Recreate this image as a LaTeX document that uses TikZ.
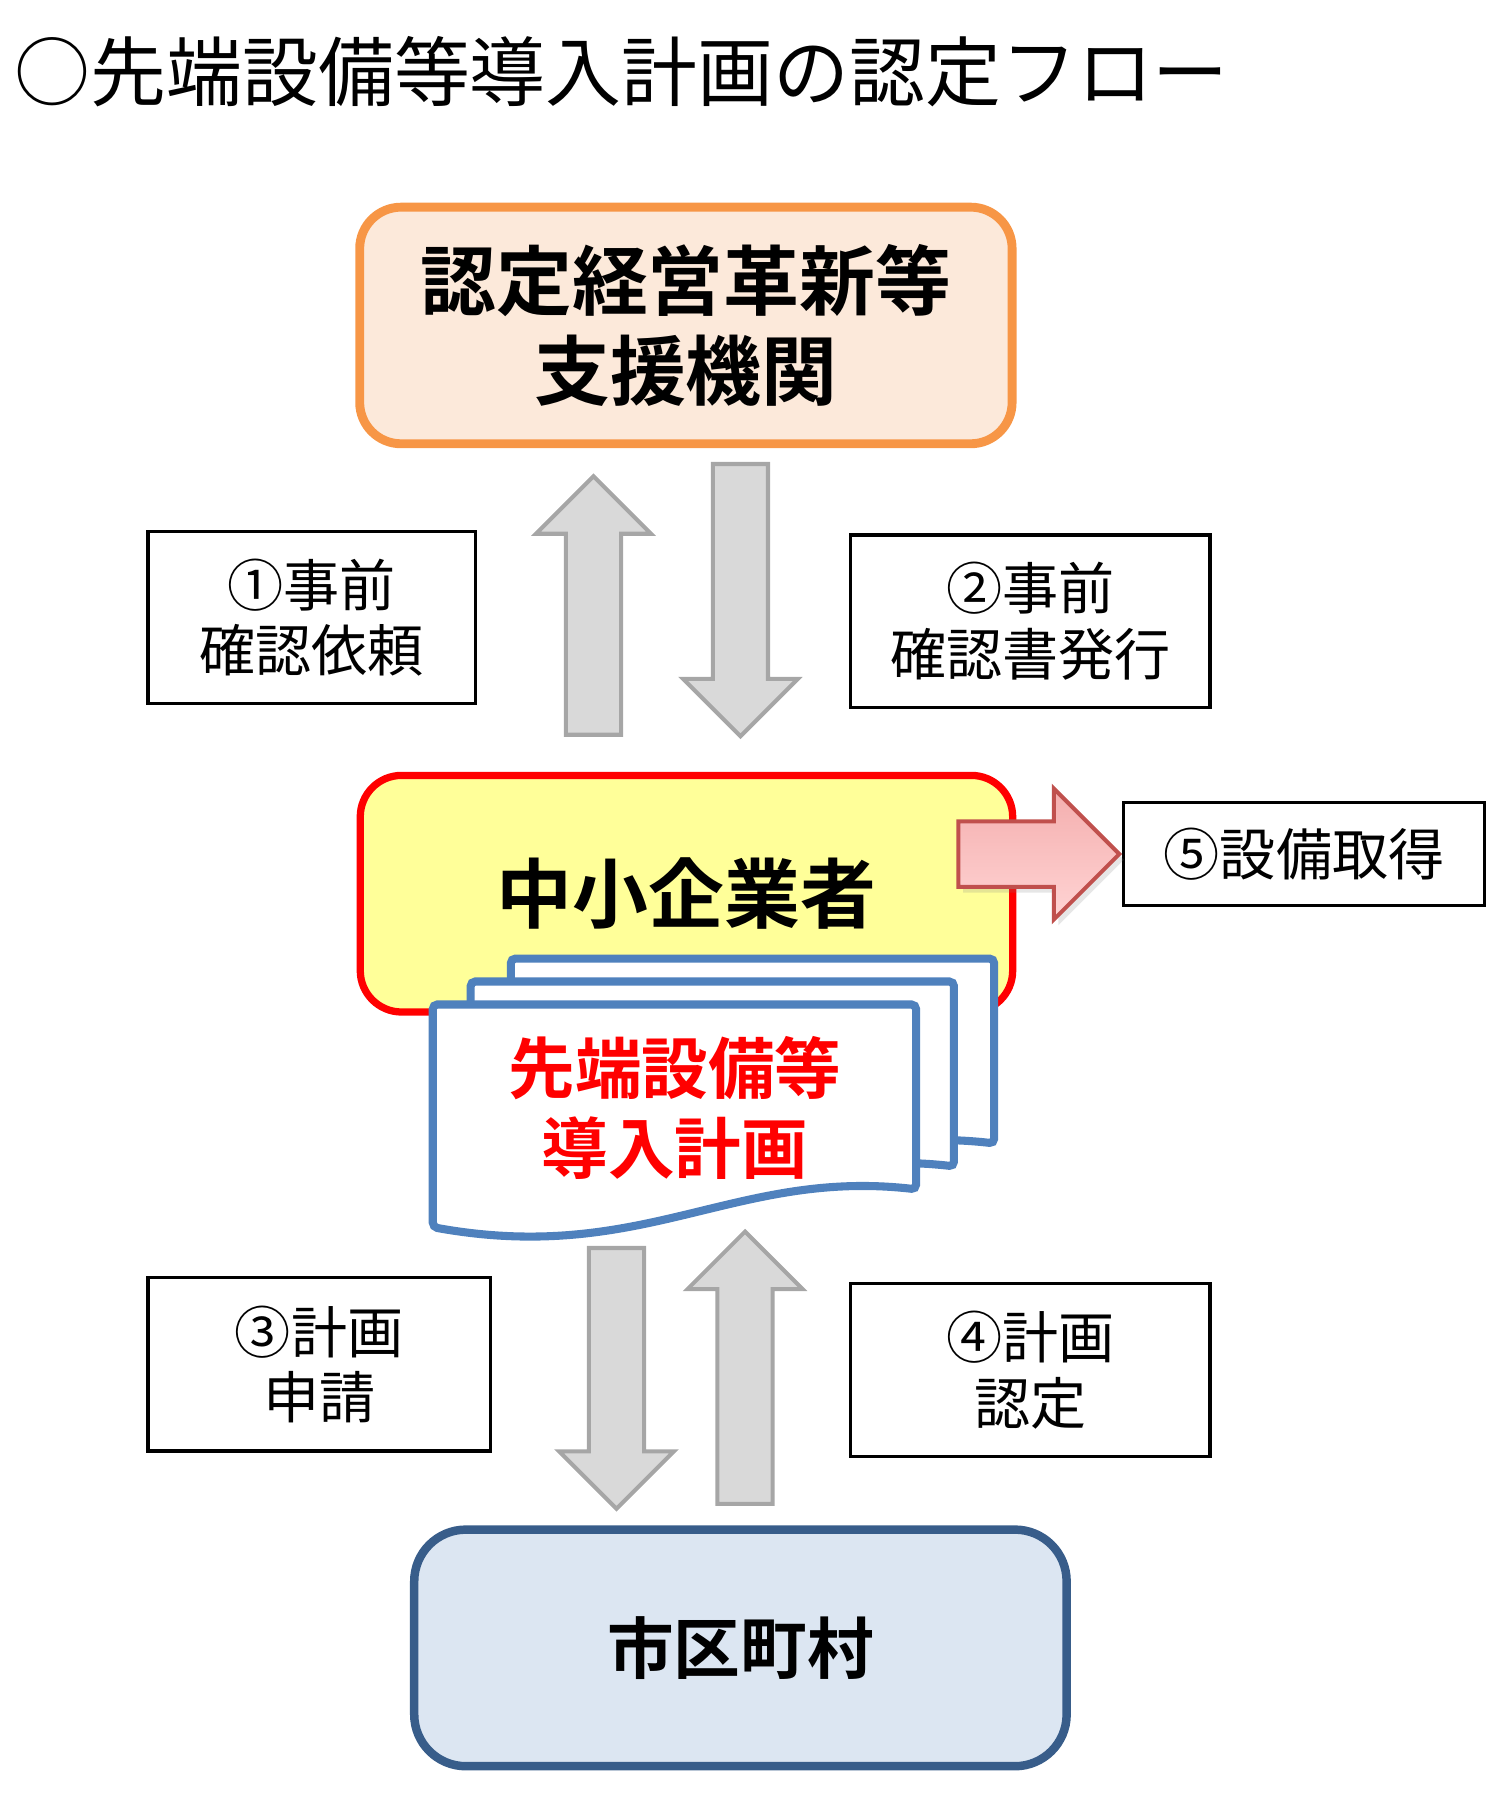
\documentclass[tikz,border=0pt]{standalone}
\usepackage{fontspec}
\setmainfont{Noto Sans CJK JP}[BoldFont={Noto Sans CJK JP Bold}]
\usepackage{tikz}
\usetikzlibrary{shapes,arrows,positioning,calc,shadows}
\definecolor{orgline}{HTML}{F79646}
\definecolor{orgfill}{HTML}{FCE9DA}
\definecolor{smeline}{HTML}{FF0000}
\definecolor{smefill}{HTML}{FFFF99}
\definecolor{cityline}{HTML}{385D8A}
\definecolor{cityfill}{HTML}{DCE6F2}
\definecolor{planline}{HTML}{4F81BD}
\definecolor{arrowfill}{HTML}{D9D9D9}
\definecolor{arrowline}{HTML}{A6A6A6}
\definecolor{pinkline}{HTML}{C0504D}
\definecolor{pinktop}{HTML}{F4AEAE}
\definecolor{pinkbot}{HTML}{FFD4D4}

\begin{document}
\begin{tikzpicture}[x=0.01cm,y=-0.01cm]
\tikzset{font={\fontsize{13.9pt}{16.2pt}\selectfont}}
\tikzset{
  bigbox/.style={rounded corners=0.36cm, minimum width=5.68cm, minimum height=2.06cm, align=center,
    font={\fontsize{18.8pt}{22.2pt}\selectfont\bfseries}},
  labelbox/.style={draw=black, line width=0.8pt, align=center, inner sep=0pt},
  grayarrow/.style={single arrow, draw=arrowline, fill=arrowfill, line width=1pt,
    inner xsep=0pt, inner ysep=0.2225cm, minimum width=0.965cm, single arrow head extend=0.26cm},
  planpage/.style={draw=planline, fill=white, line width=2pt, rounded corners=0.04cm},
}
\useasboundingbox (0,0) rectangle (1306,1568);

%Title
\node[anchor=west, inner sep=0pt, font={\fontsize{18.8pt}{22pt}\selectfont}] (title) at (12,62) {○先端設備等導入計画の認定フロー};

%Boxes
\node[bigbox, draw=orgline, fill=orgfill, line width=2.2pt] (org) at (597.5,283.5) {認定経営革新等\\支援機関};
\node[bigbox, draw=smeline, fill=smefill, line width=1.8pt] (sme) at (598,778.5) {中小企業者};
\node[bigbox, draw=cityline, fill=cityfill, line width=2.1pt, rounded corners=0.45cm,
  font={\fontsize{16.5pt}{20pt}\selectfont\bfseries}] (city) at (645,1435.5) {市区町村};

%Plan
\foreach \dx/\dy in {68/-40,33/-20,0/0}
\draw[planpage, shift={(\dx,\dy)}] (377,875) -- (798,875) -- (798,1036)
  .. controls (640,1018) and (560,1102) .. (377,1069) -- cycle;
\node[align=center, text=red, font={\fontsize{16.5pt}{19.9pt}\selectfont\bfseries}] (plan) at (588,965) {先端設備等\\導入計画};

%Labels
\node[labelbox, minimum width=2.85cm, minimum height=1.50cm] (pre) at (271.5,538) {①事前\\確認依頼};
\node[labelbox, minimum width=3.13cm, minimum height=1.50cm] (conf) at (897.5,541) {②事前\\確認書発行};
\node[labelbox, minimum width=2.98cm, minimum height=1.51cm] (req) at (278,1188.5) {③計画\\申請};
\node[labelbox, minimum width=3.13cm, minimum height=1.51cm] (cert) at (897.5,1193.5) {④計画\\認定};
\node[labelbox, minimum width=3.14cm, minimum height=0.90cm] (buy) at (1136,744) {⑤設備取得};

%Arrows
\node[grayarrow, rotate=90, anchor=tip, minimum height=2.25cm] (ask) at ($(org.south)+(-80.5,22)$) {};
\node[grayarrow, rotate=-90, anchor=tail, minimum height=2.37cm] (issue) at ($(org.south)+(47.5,12)$) {};
\node[grayarrow, rotate=-90, anchor=tip, minimum height=2.27cm] (apply) at ($(city.north)+(-108,-12)$) {};
\node[grayarrow, rotate=90, anchor=tail, minimum height=2.37cm] (approve) at ($(city.north)+(4,-17)$) {};
\node[single arrow, draw=pinkline, line width=1pt, top color=pinktop, bottom color=pinkbot,
  drop shadow={opacity=0.2, shadow xshift=0.04cm, shadow yshift=-0.05cm},
  inner xsep=0pt, inner ysep=0.2675cm, minimum width=1.105cm, single arrow head extend=0.285cm,
  minimum height=1.40cm, anchor=tip] (get) at (buy.west) {};

\end{tikzpicture}
\end{document}
